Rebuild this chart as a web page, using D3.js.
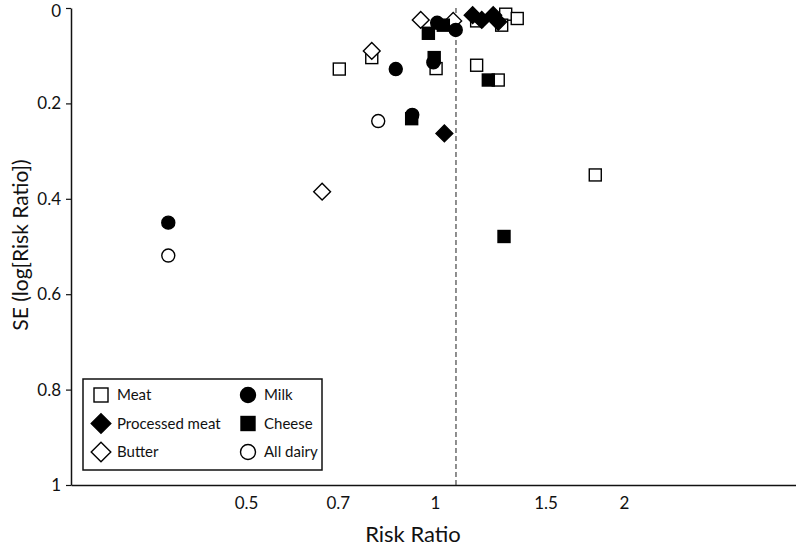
<!DOCTYPE html>
<html><head><meta charset="utf-8">
<script src="https://cdn.jsdelivr.net/npm/d3@7/dist/d3.min.js"></script>
<style>
body{margin:0;background:#fff;}
svg text{font-family:Lato,"Open Sans",sans-serif;fill:#111;}
</style></head>
<body><svg id="c" width="796" height="546"></svg>
<script>
// Data: [risk ratio, SE]
const meat = [[0.704,0.128],[0.793,0.104],[1.004,0.127],[1.165,0.12],[1.165,0.027],[1.296,0.013],[1.352,0.022],[1.277,0.036],[1.261,0.151],[1.80,0.35]];
const processedMeat = [[1.148,0.015],[1.187,0.025],[1.238,0.015],[1.261,0.029],[1.035,0.263]];
const butter = [[0.949,0.025],[1.069,0.027],[0.793,0.09],[0.661,0.385]];
const cheese = [[1.031,0.036],[0.976,0.053],[0.997,0.104],[1.216,0.151],[0.918,0.232],[1.288,0.479]];
const milk = [[1.008,0.031],[1.079,0.046],[0.866,0.128],[0.994,0.114],[0.920,0.224],[0.376,0.45]];
const allDairy = [[0.812,0.237],[0.376,0.519]];
const xTicks = [0.5,0.7,1,1.5,2];
const yTicks = [0,0.2,0.4,0.6,0.8,1];
const pooledRR = 1.08;
const legendItems = [["Meat","sq-open"],["Processed meat","di-fill"],["Butter","di-open"],["Milk","ci-fill"],["Cheese","sq-fill"],["All dairy","ci-open"]];

const svg = d3.select("#c");
const x0 = d3.scaleLog().domain([0.5,2]).range([246,624]);
const x = d3.scaleLog().domain([x0.invert(71), x0.invert(796)]).range([71,796]);
const y = d3.scaleLinear().domain([0,1]).range([8,485]);

// axes
const yAxis = d3.axisLeft(y).tickValues(yTicks).tickFormat(d=>d===0?"0":d===1?"1":d3.format(".1f")(d)).tickSize(5).tickSizeOuter(0);
const gy = svg.append("g").attr("transform","translate(71,0)").call(yAxis);
gy.selectAll("text").style("font-size","17px").attr("x",-10);
gy.selectAll(".tick").filter(d=>d===0).select("text").attr("dy","0.5em");
gy.select(".domain").attr("stroke","#111").attr("stroke-width",1.5);
gy.selectAll(".tick line").attr("stroke","#111").attr("stroke-width",1.2);

const xAxis = d3.axisBottom(x).tickValues(xTicks).tickFormat(d=>String(d)).tickSize(0).tickSizeOuter(0);
const gx = svg.append("g").attr("transform","translate(0,485)").call(xAxis);
gx.selectAll("text").style("font-size","17px").attr("dy","1.25em");
gx.select(".domain").attr("stroke","#111").attr("stroke-width",1.5);

// dashed line
svg.append("line").attr("x1",x(pooledRR)).attr("x2",x(pooledRR)).attr("y1",y(0)).attr("y2",y(1))
  .attr("stroke","#333").attr("stroke-width",1.1).attr("stroke-dasharray","5,3");

// titles
svg.append("text").attr("x",413).attr("y",542).attr("text-anchor","middle").style("font-size","22px").text("Risk Ratio");
svg.append("text").attr("transform","translate(28,245) rotate(-90)").attr("text-anchor","middle").style("font-size","21px").text("SE (log[Risk Ratio])");

// marker drawing
function marker(g, type, s){
  const fill = type.endsWith("fill") ? "#000" : "#fff";
  let el;
  if(type.startsWith("sq")){
    el = g.append("rect").attr("x",-s/2).attr("y",-s/2).attr("width",s).attr("height",s);
  } else if(type.startsWith("ci")){
    el = g.append("circle").attr("r",s/2+0.5);
  } else {
    const h = s*0.7;
    el = g.append("path").attr("d",`M0,${-h}L${h},0L0,${h}L${-h},0Z`);
  }
  el.attr("fill",fill).attr("stroke","#000").attr("stroke-width",1.4);
}
function series(data,type){
  data.forEach(d=>{
    const g = svg.append("g").attr("transform",`translate(${x(d[0])},${y(d[1])})`);
    marker(g,type,12);
  });
}
series(meat,"sq-open");
series(processedMeat,"di-fill");
series(butter,"di-open");
series(cheese,"sq-fill");
series(milk,"ci-fill");
series(allDairy,"ci-open");

// legend
const lg = svg.append("g");
lg.append("rect").attr("x",83).attr("y",379).attr("width",239).attr("height",91).attr("fill","#fff").attr("stroke","#111").attr("stroke-width",1.5);
legendItems.forEach((it,i)=>{
  const col = Math.floor(i/3), row = i%3;
  const mx = col===0?101:248, my = 395+row*28.5;
  const g = lg.append("g").attr("transform",`translate(${mx},${my})`);
  marker(g,it[1],14);
  lg.append("text").attr("x",mx+16).attr("y",my).attr("dy","0.35em").style("font-size","15px").text(it[0]);
});
</script></body></html>
